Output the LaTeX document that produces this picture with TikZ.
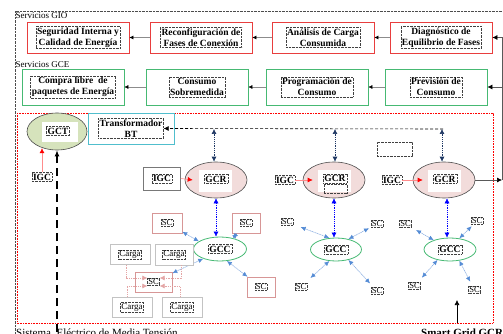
\documentclass[tikz,border=0pt]{standalone}
\usepackage{fontspec}
\setmainfont{Liberation Serif}
\usetikzlibrary{arrows.meta,shapes.geometric,calc}

\definecolor{boxred}{RGB}{232,62,62}
\definecolor{boxgreen}{RGB}{70,185,115}
\definecolor{trafocyan}{RGB}{80,190,205}
\definecolor{gctfill}{RGB}{214,227,188}
\definecolor{gcrfill}{RGB}{242,220,219}
\definecolor{navyline}{RGB}{31,56,100}
\definecolor{lightline}{RGB}{140,175,225}
\definecolor{lighttip}{RGB}{85,140,213}
\definecolor{pinkline}{RGB}{228,165,165}
\definecolor{scpink}{RGB}{215,150,150}
\definecolor{cargagray}{RGB}{195,195,195}
\definecolor{igcgray}{RGB}{120,120,120}

\begin{document}
\begin{tikzpicture}[x=1pt,y=-1pt,
  txt/.style={draw=black!75, dash pattern=on 0.7pt off 0.7pt, line width=0.35pt,
    inner sep=1.2pt, align=center, font=\bfseries\fontsize{9.5}{11}\selectfont},
  sctxt/.style={txt, inner sep=0.8pt, font=\fontsize{8.5}{10}\selectfont},
  cargatxt/.style={txt, inner sep=0.8pt, font=\fontsize{9}{10}\selectfont},
  lbl/.style={inner sep=0pt, font=\fontsize{9}{10}\selectfont},
  frame/.style={draw, line width=0.8pt, inner sep=0pt, fill=white},
  gio/.style={frame, draw=boxred, minimum width=102pt, minimum height=31pt},
  gce/.style={frame, draw=boxgreen, minimum width=102pt, minimum height=36pt},
  scbox/.style={frame, draw=scpink, line width=0.6pt, minimum height=20pt},
  cargabox/.style={frame, draw=cargagray, line width=0.6pt, minimum width=40pt, minimum height=20pt},
  gcr/.style={ellipse, draw=black!70, line width=0.6pt, fill=gcrfill, minimum width=62pt, minimum height=36pt, inner sep=0pt},
  gcc/.style={ellipse, draw=boxgreen, line width=0.8pt, minimum width=52pt, minimum height=23pt, inner sep=0pt},
  pad/.style={fill=white, inner sep=0pt, minimum width=33pt, minimum height=22pt},
  svcarrow/.style={draw=black!45, line width=0.5pt, -{Latex[length=4pt,width=4pt,black]}},
  feed/.style={draw=black!65, line width=0.6pt},
  navyarrow/.style={draw=navyline, line width=0.6pt, dash pattern=on 1pt off 0.8pt,
    {Latex[length=5pt,width=5pt]}-{Latex[length=5pt,width=5pt]}},
  gcarrow/.style={draw=blue, line width=0.5pt, dash pattern=on 1pt off 0.8pt,
    {Latex[length=5pt,width=5pt]}-{Latex[length=5pt,width=5pt]}},
  lbarrow/.style={draw=lightline, line width=0.6pt, dash pattern=on 1.2pt off 0.6pt,
    {Latex[length=5pt,width=4.5pt,lighttip]}-{Latex[length=5pt,width=4.5pt,lighttip]}},
  igcarrow/.style={draw=red!45, line width=0.6pt, -{Latex[length=5pt,width=5pt,red]}},
  cargaline/.style={draw=pinkline, line width=0.5pt, dash pattern=on 1pt off 0.8pt,
    -{Latex[length=5pt,width=5pt,pinkline]}}
]
\useasboundingbox (0,0) rectangle (503,334);

% service frame
\draw[black!70, line width=0.5pt, dash pattern=on 0.7pt off 0.7pt] (15,345) -- (15,11) -- (510,11);
\node[lbl, anchor=base west] (giolabel) at (15.5,18.5) {Servicios GIO};
\node[lbl, anchor=base west] (gcelabel) at (15.5,67.5) {Servicios GCE};

% GIO services
\node[gio] (g1) at (78,37.5) {};
\node[txt] (g1t) at (g1) {Seguridad Interna y\\Calidad de Energía};
\node[gio] (g2) at (201,37.5) {};
\node[txt] (g2t) at (g2) {Reconfiguración de\\Fases de Conexión};
\node[gio] (g3) at (323,37.5) {};
\node[txt] (g3t) at (g3) {Análisis de Carga\\Consumida};
\node[gio] (g4) at (441,37.5) {};
\node[txt] (g4t) at (g4) {Diagnóstico de\\Equilibrio de Fases};
\draw[svcarrow] (g4.west) -- (g3.east);
\draw[svcarrow] (g3.west) -- (g2.east);
\draw[svcarrow] (g2.west) -- (g1.east);

% GCE services
\node[gce] (e1) at (73,87) {};
\node[txt] (e1t) at (e1) {Compra libre \ de\\paquetes de Energía};
\node[gce] (e2) at (197,87) {};
\node[txt] (e2t) at (e2) {Consumo\\Sobremedida};
\node[gce] (e3) at (317,87) {};
\node[txt] (e3t) at (e3) {Programación de\\Consumo};
\node[gce] (e4) at (436,87) {};
\node[txt] (e4t) at (e4) {Previsión de\\Consumo};
\draw[svcarrow] (e4.west) -- (e3.east);
\draw[svcarrow] (e3.west) -- (e2.east);
\draw[svcarrow] (e2.west) -- (e1.east);

% Smart Grid GCR frame
\draw[red, line width=0.6pt, dash pattern=on 0.8pt off 0.8pt] (17,113) rectangle (493,323);

% GCT and transformer
\node[ellipse, draw=black!70, line width=0.6pt, fill=gctfill, minimum width=60pt, minimum height=37pt, inner sep=0pt] (gct) at (57,131.5) {};
\node[pad, minimum width=36pt, minimum height=20pt] (gctpad) at (60,132) {};
\node[txt] (gctt) at (58,131) {GCT};
\node[frame, draw=trafocyan, line width=0.7pt, minimum width=86pt, minimum height=31pt] (trafo) at (131,128.5) {};
\node[txt] (trafot) at (131,128.5) {Transformador\\BT};
\node[txt] (igc0) at (42,177) {IGC};
\draw[igcarrow] (igc0.north) -- (igc0.north |- gct.230);

% low voltage bus
\coordinate (busend) at (443,129);
\coordinate (b1) at (214,129);
\coordinate (b2) at (335,129);
\coordinate (b3) at (442,129);
\draw[black, line width=0.6pt, dash pattern=on 3pt off 2pt, -{Latex[length=5pt,width=5pt]}] (busend) -- (trafot.east);

% GCR units
\node[gcr] (gcr1) at (216,180) {};
\node[pad] (gcr1pad) at (215.5,181) {};
\node[txt] (gcr1t) at (216,179) {GCR};
\node[gcr] (gcr2) at (334,180) {};
\node[pad] (gcr2pad) at (334.5,181) {};
\node[txt] (gcr2t) at (335,178.5) {GCR};
\node[txt, minimum width=23pt, minimum height=9pt, inner sep=0pt] (gcr2slot) at (335.5,188.5) {};
\node[gcr] (gcr3) at (444,180) {};
\node[pad] (gcr3pad) at (444.5,181) {};
\node[txt] (gcr3t) at (445,179) {GCR};
\node[txt, minimum width=35pt, minimum height=14pt, inner sep=0pt] (spare) at (394.5,149) {};

\draw[navyarrow] (b1) -- (b1 |- gcr1.north);
\draw[navyarrow] (b2) -- (b2 |- gcr2.north);
\draw[navyarrow] (b3) -- (b3 |- gcr3.north);

% IGC inputs
\node[frame, draw=igcgray, line width=0.6pt, minimum width=37pt, minimum height=23pt] (igc1b) at (162,178.5) {};
\node[txt] (igc1) at (igc1b) {IGC};
\node[txt] (igc2) at (285,180) {IGC};
\node[txt] (igc3) at (392,180) {IGC};
\draw[igcarrow] (igc1b.east) -- ([xshift=8pt]gcr1.west);
\draw[igcarrow] (igc2.east) -- ([xshift=10pt]gcr2.west);
\draw[igcarrow] (igc3.east) -- ([xshift=10pt]gcr3.west);

% feedback to services
\coordinate (rc1) at (502,180);
\coordinate (rc2) at (502,37.5);
\coordinate (rc3) at (502,87);
\draw[feed, -{Latex[length=5pt,width=5pt,black]}] (gcr3.east) -- (rc1);
\draw[feed] (rc1) -- (rc2);
\draw[feed, -{Latex[length=5pt,width=5pt,black]}] (rc2) -- (g4.east);
\draw[feed, -{Latex[length=5pt,width=5pt,black]}] (rc3) -- (e4.east);

% GCC units
\node[gcc, minimum width=53pt, minimum height=24pt] (gcc1) at (220,249) {};
\node[txt] (gcc1t) at (gcc1) {GCC};
\node[gcc, minimum width=51pt] (gcc2) at (336,249.5) {};
\node[txt] (gcc2t) at (gcc2) {GCC};
\node[gcc] (gcc3) at (450,249.5) {};
\node[txt] (gcc3t) at (gcc3) {GCC};
\draw[gcarrow] (gcr1.south) -- (gcr1.south |- gcc1.north);
\draw[gcarrow] (gcr2.south) -- (gcr2.south |- gcc2.north);
\draw[gcarrow] ([xshift=3pt]gcr3.south) -- ([xshift=3pt]gcr3.south |- gcc3.north);

% SC nodes of first GCC
\node[scbox, minimum width=30pt] (sc1) at (167,223) {};
\node[sctxt] (sc1t) at (sc1) {SC};
\node[scbox, minimum width=28pt] (sc2) at (246,223) {};
\node[sctxt] (sc2t) at (sc2) {SC};
\node[scbox, minimum width=28pt] (sc3) at (261,287) {};
\node[sctxt] (sc3t) at (sc3) {SC};
\node[scbox, minimum width=37pt] (sc4) at (153.5,282) {};
\node[sctxt] (sc4t) at (sc4) {SC};
\draw[lbarrow] (sc1) -- (gcc1.160);
\draw[lbarrow] (sc2) -- (gcc1.40);
\draw[lbarrow] (sc4) -- (gcc1.210);
\draw[lbarrow] (sc3) -- (gcc1.300);

% loads
\node[cargabox] (carga1) at (130,254.5) {};
\node[cargatxt] (carga1t) at (carga1) {Carga};
\node[cargabox, minimum width=38pt, minimum height=21pt] (carga2) at (174,254.5) {};
\node[cargatxt] (carga2t) at (carga2) {Carga};
\node[cargabox] (carga3) at (132,307) {};
\node[cargatxt] (carga3t) at (carga3) {Carga};
\node[cargabox] (carga4) at (182,307) {};
\node[cargatxt] (carga4t) at (carga4) {Carga};
\draw[cargaline] ([xshift=-4pt]carga1.south) |- ([yshift=4pt]sc4t.west);
\draw[cargaline] ([xshift=7pt]carga2.south) |- ([yshift=4pt]sc4t.east);
\draw[cargaline] ([xshift=-5pt]carga3.north) |- ([yshift=-4pt]sc4t.west);
\draw[cargaline] ([xshift=-2pt]carga4.north) |- ([yshift=-4pt]sc4t.east);

% SC nodes of second GCC
\node[sctxt] (sc5) at (287,222) {SC};
\node[sctxt] (sc6) at (377,224) {SC};
\node[sctxt] (sc7) at (301,286.5) {SC};
\node[sctxt] (sc8) at (377,291) {SC};
\draw[lbarrow, shorten <=8pt] (sc5) -- (gcc2.120);
\draw[lbarrow, shorten <=2pt] (sc6) -- (gcc2.40);
\draw[lbarrow, shorten <=7pt] (sc7) -- (gcc2.240);
\draw[lbarrow, shorten <=5pt] (sc8) -- (gcc2.320);

% SC nodes of third GCC
\node[sctxt] (sc9) at (405.5,224) {SC};
\node[sctxt] (sc10) at (477,221) {SC};
\node[sctxt] (sc11) at (414.5,286) {SC};
\node[sctxt] (sc12) at (474.5,290) {SC};
\draw[lbarrow, shorten <=5pt] (sc9) -- (gcc3.150);
\draw[lbarrow, shorten <=2pt] (sc10) -- (gcc3.50);
\draw[lbarrow, shorten <=6pt] (sc11) -- (gcc3.220);
\draw[lbarrow, shorten <=5pt] (sc12) -- (gcc3.310);

% medium voltage feeder into GCT
\coordinate (mv) at (57,345);
\draw[black, line width=1.6pt, dash pattern=on 8pt off 5pt, -{Latex[length=6pt,width=5pt]}] (mv) -- (gct.south);

% bottom captions
\node[inner sep=0pt, anchor=base west, font=\fontsize{11}{12}\selectfont] (mvlabel) at (16,336) {Sistema \ Eléctrico de Media Tensión};
\node[inner sep=0pt, anchor=base west, font=\bfseries\fontsize{11}{12}\selectfont] (sglabel) at (421,336) {Smart Grid GCR};
\coordinate (sgfoot) at (457,323);
\draw[black, line width=0.6pt, -{Latex[length=5pt,width=5pt]}] (sgfoot) -- ++(0,-23);
\end{tikzpicture}
\end{document}
